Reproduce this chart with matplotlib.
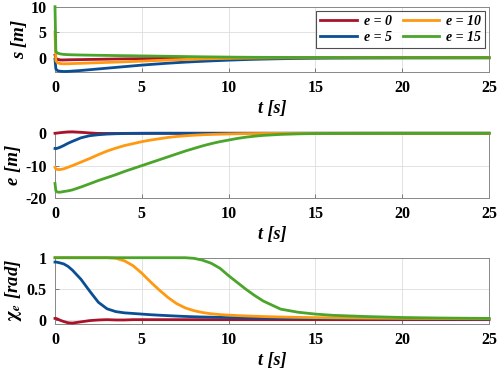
import numpy as np
import matplotlib
matplotlib.use("Agg")
import matplotlib.pyplot as plt

# --- data ---
t = [0, 0.05, 0.15, 0.3, 0.5, 0.75, 1, 1.5, 2, 2.5, 3, 3.5, 4, 4.5, 5, 5.5, 6, 6.5, 7, 7.5,
     8, 8.5, 9, 9.5, 10, 10.5, 11, 11.5, 12, 13, 14, 15, 16, 18, 20, 22, 25]

labels = ["e = 0", "e = 5", "e = 10", "e = 15"]
colors = ["#a8132a", "#0c4e94", "#ff9911", "#4aa52a"]

s_e0 = [0.5, -0.1, -0.35, -0.45, -0.45, -0.42, -0.4, -0.37, -0.34, -0.31, -0.28, -0.25, -0.22,
        -0.2, -0.18, -0.16, -0.14, -0.12, -0.1, -0.09, -0.08, -0.07, -0.06, -0.05, -0.04, -0.035,
        -0.03, -0.025, -0.02, -0.015, -0.01, -0.005, 0, 0, 0, 0, 0]
s_e5 = [-0.3, -2.2, -2.55, -2.65, -2.7, -2.68, -2.62, -2.5, -2.35, -2.2, -2.05, -1.9, -1.75,
        -1.6, -1.45, -1.32, -1.2, -1.08, -0.97, -0.87, -0.78, -0.7, -0.62, -0.55, -0.48, -0.42,
        -0.36, -0.31, -0.27, -0.2, -0.14, -0.1, -0.07, -0.04, -0.02, -0.01, 0]
s_e10 = [5, -0.6, -1.0, -1.15, -1.2, -1.18, -1.15, -1.1, -1.04, -0.98, -0.92, -0.86, -0.8,
         -0.74, -0.67, -0.6, -0.53, -0.46, -0.4, -0.34, -0.29, -0.24, -0.2, -0.16, -0.13, -0.1,
         -0.08, -0.06, -0.05, -0.03, -0.02, -0.01, 0, 0, 0, 0, 0]
s_e15 = [10, 1.2, 0.9, 0.75, 0.65, 0.6, 0.57, 0.53, 0.5, 0.47, 0.45, 0.42, 0.4, 0.38, 0.35,
         0.33, 0.3, 0.28, 0.25, 0.23, 0.2, 0.18, 0.16, 0.14, 0.12, 0.1, 0.09, 0.08, 0.07, 0.05,
         0.04, 0.03, 0.02, 0.01, 0, 0, 0]

e_e0 = [0, 0.02, 0.08, 0.18, 0.3, 0.42, 0.45, 0.3, 0.1, -0.05, -0.08, -0.06, -0.03, -0.01,
        0, 0, 0, 0, 0, 0, 0, 0, 0, 0, 0, 0, 0, 0, 0, 0, 0, 0, 0, 0, 0, 0, 0]
e_e5 = [-4.7, -4.75, -4.6, -4.3, -3.8, -3.1, -2.5, -1.4, -0.75, -0.45, -0.25, -0.15, -0.08,
        -0.04, -0.02, -0.01, 0, 0, 0, 0, 0, 0, 0, 0, 0, 0, 0, 0, 0, 0, 0, 0, 0, 0, 0, 0, 0]
e_e10 = [-10.5, -11.0, -11.2, -11.2, -11.0, -10.5, -10.0, -8.9, -7.8, -6.6, -5.5, -4.6, -3.8,
         -3.2, -2.6, -2.1, -1.7, -1.3, -1.0, -0.78, -0.6, -0.46, -0.36, -0.28, -0.21, -0.16,
         -0.12, -0.09, -0.06, -0.03, -0.02, -0.01, 0, 0, 0, 0, 0]
e_e15 = [-15.5, -17.8, -18.2, -18.2, -18.0, -17.8, -17.5, -16.6, -15.6, -14.6, -13.7, -12.8,
         -11.8, -10.9, -10.0, -9.1, -8.2, -7.3, -6.4, -5.5, -4.7, -3.9, -3.2, -2.6, -2.1, -1.6,
         -1.2, -0.9, -0.65, -0.35, -0.18, -0.08, -0.04, -0.01, 0, 0, 0]

chi_e0 = [0.02, 0.02, 0.01, -0.01, -0.03, -0.05, -0.055, -0.035, -0.015, -0.005, 0, -0.005,
          -0.005, 0, 0, 0, 0, 0, 0, 0, 0, 0, 0, 0, 0, 0, 0, 0, 0, 0, 0, 0, 0, 0, 0, 0, 0]
chi_e5 = [0.93, 0.93, 0.925, 0.915, 0.9, 0.86, 0.8, 0.65, 0.46, 0.28, 0.175, 0.13, 0.11, 0.1,
          0.09, 0.08, 0.072, 0.065, 0.058, 0.052, 0.047, 0.043, 0.04, 0.037, 0.034, 0.032,
          0.03, 0.028, 0.026, 0.023, 0.021, 0.019, 0.017, 0.015, 0.013, 0.012, 0.01]
chi_e10 = [1, 1, 1, 1, 1, 1, 1, 1, 1, 1, 1, 0.99, 0.95, 0.87, 0.75, 0.61, 0.48, 0.36, 0.26,
           0.19, 0.145, 0.115, 0.095, 0.082, 0.073, 0.066, 0.06, 0.055, 0.05, 0.043, 0.037,
           0.033, 0.03, 0.025, 0.021, 0.018, 0.015]
chi_e15 = [1, 1, 1, 1, 1, 1, 1, 1, 1, 1, 1, 1, 1, 1, 1, 1, 1, 1, 1, 1, 0.99, 0.96, 0.91,
           0.83, 0.71, 0.6, 0.49, 0.39, 0.3, 0.17, 0.12, 0.09, 0.07, 0.05, 0.035, 0.027, 0.02]

s_series = [s_e0, s_e5, s_e10, s_e15]
e_series = [e_e0, e_e5, e_e10, e_e15]
chi_series = [chi_e0, chi_e5, chi_e10, chi_e15]

# --- style ---
plt.rcParams["font.family"] = ["Liberation Serif", "DejaVu Serif"]
plt.rcParams["font.weight"] = "bold"
plt.rcParams["mathtext.fontset"] = "stix"

fig = plt.figure(figsize=(4.98, 3.71), dpi=100)
left, width = 55 / 498, 434 / 498
H = 371
panels = [
    (s_series, (-2.8, 10), [0, 5, 10], ["0", "5", "10"], "s [m]", (6.7, 72)),
    (e_series, (-20, 0.3), [-20, -10, 0], ["-20", "-10", "0"], "e [m]", (132.3, 198)),
    (chi_series, (-0.07, 1.0), [0, 0.5, 1], ["0", "0.5", "1"],
     r"$\mathbf{\chi}_\mathit{e}$ [rad]", (257.7, 324)),
]

axes = []
for series, ylim, yt, ytl, ylab, (top, bot) in panels:
    ax = fig.add_axes([left, 1 - bot / H, width, (bot - top) / H])
    for ys, c, lab in zip(series, colors, labels):
        ax.plot(t, ys, color=c, lw=2.0, label=lab, clip_on=False, zorder=3)
    ax.set_xlim(0, 25)
    ax.set_ylim(*ylim)
    ax.set_xticks([0, 5, 10, 15, 20, 25])
    ax.set_yticks(yt)
    ax.set_yticklabels(ytl)
    ax.grid(True, color="#dddddd", lw=0.6)
    ax.set_axisbelow(True)
    for sp in ax.spines.values():
        sp.set_color("#888888")
        sp.set_linewidth(0.7)
    ax.tick_params(direction="in", length=3, width=0.6, color="#666666",
                   labelsize=11.5, pad=6)
    for lbl in ax.get_xticklabels() + ax.get_yticklabels():
        lbl.set_fontweight("bold")
    ax.set_xlabel("t [s]", fontsize=13, fontweight="bold", style="italic", labelpad=3)
    ax.set_ylabel(ylab, fontsize=13.5, fontweight="bold", style="italic", labelpad=2)
    axes.append(ax)

leg = axes[0].legend(ncol=2, loc="upper right",
                     prop={"weight": "bold", "style": "italic", "size": 10},
                     frameon=True, fancybox=False, edgecolor="#222222",
                     handlelength=2.6, columnspacing=0.8, handletextpad=0.5,
                     borderpad=0.3, labelspacing=0.2, borderaxespad=0.3)
leg.get_frame().set_linewidth(0.8)
leg.set_zorder(5)

fig.savefig("out.png", dpi=100, facecolor="white")
